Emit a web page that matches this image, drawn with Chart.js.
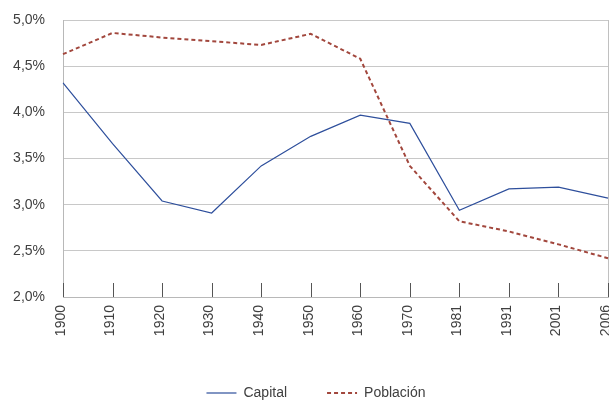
<!DOCTYPE html>
<html>
<head>
<meta charset="utf-8">
<script src="https://cdn.jsdelivr.net/npm/chart.js@4"></script>
<style>
html,body{margin:0;padding:0;background:#fff;}
#wrap{width:609px;height:400px;}
</style>
</head>
<body>
<div id="wrap"><canvas id="c" width="609" height="400"></canvas></div>
<script>
const categories = ['1900','1910','1920','1930','1940','1950','1960','1970','1981','1991','2001','2006'];
const capital = [4.32, 3.66, 3.04, 2.91, 3.42, 3.74, 3.97, 3.88, 2.94, 3.17, 3.19, 3.07];
const poblacion = [4.63, 4.86, 4.81, 4.77, 4.73, 4.85, 4.58, 3.42, 2.82, 2.71, 2.57, 2.42];
const yTicks = [2.0, 2.5, 3.0, 3.5, 4.0, 4.5, 5.0];

const FONT = 'Liberation Sans, Arial, sans-serif';
const TXT = '#404040';

const innerTicks = {
  id: 'innerTicks',
  afterLayout(chart) {
    if (chart.legend) { chart.legend.left += 12; chart.legend.right += 12; }
  },
  afterDraw(chart) {
    const x = chart.scales.x, area = chart.chartArea, ctx = chart.ctx;
    ctx.save();
    ctx.strokeStyle = '#555';
    ctx.lineWidth = 1;
    ctx.beginPath();
    for (let i = 0; i < categories.length; i++) {
      const px = Math.round(x.getPixelForTick(i)) + 0.5;
      ctx.moveTo(px, area.bottom);
      ctx.lineTo(px, area.bottom - 14);
    }
    ctx.stroke();
    ctx.restore();
  }
};

new Chart(document.getElementById('c'), {
  type: 'line',
  data: {
    labels: categories,
    datasets: [
      {label: 'Capital', data: capital, borderColor: '#2E4F9C', backgroundColor: '#2E4F9C',
       borderWidth: 1.2, pointRadius: 0, tension: 0},
      {label: 'Población', data: poblacion, borderColor: '#A2473D', backgroundColor: '#A2473D',
       borderWidth: 2, borderDash: [4, 3], pointRadius: 0, tension: 0}
    ]
  },
  options: {
    responsive: false,
    animation: false,
    layout: {padding: {top: 20, right: 1, left: 0, bottom: -10}},
    plugins: {
      legend: {
        position: 'bottom',
        labels: {
          usePointStyle: true, pointStyle: 'line', pointStyleWidth: 30,
          boxHeight: 14, boxWidth: 30,
          font: {family: FONT, size: 14}, color: TXT, padding: 40,
          generateLabels: (chart) => {
            const items = Chart.defaults.plugins.legend.labels.generateLabels(chart);
            items.forEach((it, i) => {
              const ds = chart.data.datasets[i];
              it.lineDash = ds.borderDash || [];
              it.lineWidth = ds.borderWidth;
              it.strokeStyle = ds.borderColor;
              it.pointStyle = 'line';
            });
            return items;
          }
        }
      },
      tooltip: {enabled: false}
    },
    scales: {
      x: {
        offset: false,
        grid: {
          drawTicks: false,
          color: (c) => (c.index === 0 || c.index === categories.length - 1) ? '#c0c0c0' : 'rgba(0,0,0,0)'
        },
        border: {display: true, color: '#b8b8b8'},
        ticks: {autoSkip: false, maxRotation: 90, minRotation: 90, padding: 8, labelOffset: -2,
                font: {family: FONT, size: 14}, color: TXT},
        afterFit: (s) => { s.height = 49; s.paddingRight = 0; s.paddingLeft = 0; }
      },
      y: {
        min: 2, max: 5,
        afterBuildTicks: (s) => { s.ticks = yTicks.map(v => ({value: v})); },
        grid: {drawTicks: false, color: '#c8c8c8'},
        border: {display: true, color: '#b8b8b8'},
        ticks: {padding: 18, font: {family: FONT, size: 14}, color: TXT,
                callback: (v) => v.toFixed(1).replace('.', ',') + '%'},
        afterFit: (s) => { s.width = 63; s.paddingTop = 0; s.paddingBottom = 0; }
      }
    }
  },
  plugins: [innerTicks]
});
</script>
</body>
</html>
